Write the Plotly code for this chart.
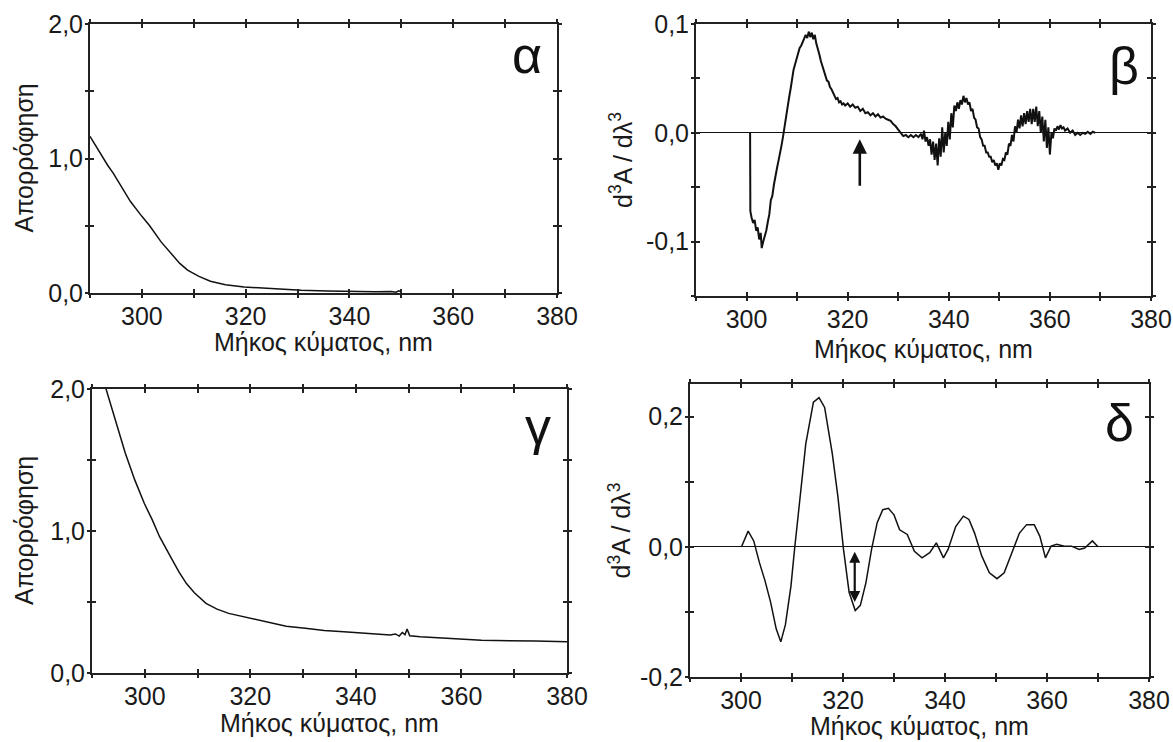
import plotly.graph_objects as go

# ---------------- data ----------------
# Panel α : absorbance spectrum
lam_a = [290, 291, 292, 293.4, 294.5, 296.4, 297.8, 300, 301.5, 303.7, 305.1, 307.3,
         308.8, 311, 313.2, 316.1, 319.7, 323.4, 327, 330.7, 335.8, 341.6, 345, 348,
         349, 349.5, 350]
abs_a = [1.165, 1.10, 1.04, 0.95, 0.89, 0.77, 0.68, 0.57, 0.50, 0.38, 0.32, 0.22,
         0.17, 0.124, 0.087, 0.062, 0.045, 0.035, 0.025, 0.020, 0.015, 0.010, 0.010, 0.012,
         0.006, 0.016, 0.008]

# Panel β : third derivative of α
lam_b = [300.7, 300.75, 301.0, 301.3, 301.6, 301.9, 302.2, 302.5, 302.8, 303.0, 303.3, 303.6,
         303.9, 304.2, 304.5, 304.8, 305.1, 305.4, 305.7, 306.0, 306.3, 306.6, 306.9, 307.2,
         307.5, 307.8, 308.1, 308.4, 308.7, 309.0, 309.3, 309.6, 309.9, 310.2, 310.5, 310.8,
         311.1, 311.4, 311.7, 312.0, 312.3, 312.6, 312.9, 313.2, 313.5, 313.8, 314.1, 314.4,
         314.7, 315.0, 315.3, 315.6, 315.9, 316.2, 316.5, 316.8, 317.1, 317.4, 317.7, 318.0,
         318.3, 318.6, 318.9, 319.2, 319.5, 320.0, 320.5, 321.0, 321.5, 322.0, 322.5, 323.0,
         323.5, 324.0, 324.5, 325.0, 325.5, 326.0, 326.5, 327.0, 327.5, 328.0, 328.5, 329.0,
         329.5, 330.0, 330.5, 331.0, 331.5, 332.0, 332.5, 333.0, 333.5, 334.0, 334.5, 334.8,
         335.1, 335.4, 335.7, 336.0, 336.3, 336.6, 336.9, 337.2, 337.5, 337.8, 338.1, 338.4,
         338.7, 339.0, 339.3, 339.6, 339.9, 340.2, 340.5, 340.8, 341.1, 341.4, 341.7, 342.0,
         342.3, 342.6, 342.9, 343.2, 343.5, 343.8, 344.1, 344.4, 344.7, 345.0, 345.3, 345.6,
         345.9, 346.2, 346.5, 346.8, 347.1, 347.4, 347.7, 348.0, 348.3, 348.6, 348.9, 349.2,
         349.5, 349.8, 350.1, 350.4, 350.7, 351.0, 351.3, 351.6, 351.9, 352.2, 352.5, 352.8,
         353.1, 353.4, 353.7, 354.0, 354.3, 354.6, 354.9, 355.2, 355.5, 355.8, 356.1, 356.4,
         356.7, 357.0, 357.3, 357.6, 357.9, 358.2, 358.5, 358.8, 359.1, 359.4, 359.7, 360.0,
         360.3, 360.6, 360.9, 361.2, 361.5, 361.8, 362.1, 362.4, 362.7, 363.0, 363.5, 364.0,
         364.5, 365.0, 365.5, 366.0, 366.5, 367.0, 367.5, 368.0, 368.5, 369.0]
d3_b = [0.0, -0.072, -0.078, -0.083, -0.080, -0.090, -0.087, -0.098, -0.092, -0.106, -0.100, -0.095,
        -0.090, -0.082, -0.075, -0.062, -0.058, -0.048, -0.042, -0.033, -0.026, -0.020, -0.012, -0.004,
        0.006, 0.015, 0.024, 0.032, 0.040, 0.050, 0.058, 0.063, 0.068, 0.072, 0.078, 0.080,
        0.084, 0.086, 0.090, 0.087, 0.093, 0.088, 0.092, 0.086, 0.090, 0.082, 0.078, 0.072,
        0.066, 0.062, 0.056, 0.054, 0.048, 0.047, 0.042, 0.040, 0.037, 0.035, 0.031, 0.032,
        0.028, 0.029, 0.026, 0.027, 0.025, 0.027, 0.024, 0.026, 0.023, 0.024, 0.020, 0.022,
        0.018, 0.019, 0.016, 0.018, 0.015, 0.017, 0.014, 0.015, 0.013, 0.012, 0.011, 0.008,
        0.006, 0.003, 0.000, -0.003, -0.002, -0.004, -0.002, -0.004, -0.002, -0.004, -0.001, -0.006,
        0.002, -0.008, -0.004, -0.012, -0.006, -0.020, -0.008, -0.025, -0.010, -0.030, -0.005, -0.022,
        0.005, -0.018, 0.000, -0.012, 0.010, -0.006, 0.018, 0.005, 0.025, 0.020, 0.028, 0.022,
        0.030, 0.026, 0.034, 0.028, 0.032, 0.026, 0.028, 0.020, 0.022, 0.014, 0.012, 0.005,
        0.004, -0.004, -0.006, -0.012, -0.012, -0.018, -0.018, -0.022, -0.022, -0.027, -0.025, -0.030,
        -0.028, -0.034, -0.028, -0.030, -0.024, -0.025, -0.018, -0.020, -0.010, -0.012, -0.002, -0.008,
        0.006, 0.000, 0.012, 0.004, 0.016, 0.006, 0.018, 0.008, 0.020, 0.010, 0.022, 0.008,
        0.022, 0.010, 0.024, 0.006, 0.020, 0.000, 0.015, -0.008, 0.012, -0.014, 0.005, -0.020,
        0.000, -0.005, 0.004, 0.002, 0.006, 0.003, 0.007, 0.004, 0.005, 0.002, 0.004, 0.000,
        0.002, -0.002, 0.000, -0.002, 0.000, -0.001, 0.001, -0.001, 0.001, 0.000]

# Panel γ : absorbance spectrum
lam_g = [292.5, 294.1, 296.3, 298.1, 299.9, 301.4, 302.8, 305, 306.5, 307.9, 309.4, 311.6,
         313.7, 315.9, 319.5, 323.2, 326.8, 330.4, 334, 337.7, 341.3, 344.9, 346.5, 347.5,
         348.2, 348.8, 349.3, 349.7, 350.2, 352.2, 359.4, 363.8, 374, 380]
abs_g = [2.02, 1.82, 1.55, 1.36, 1.195, 1.08, 0.96, 0.81, 0.71, 0.63, 0.565, 0.49,
         0.45, 0.42, 0.39, 0.355, 0.33, 0.315, 0.30, 0.29, 0.28, 0.27, 0.268, 0.275,
         0.26, 0.285, 0.27, 0.31, 0.262, 0.255, 0.24, 0.23, 0.225, 0.22]

# Panel δ : third derivative of γ
lam_d = [300.1, 301.4, 302.5, 303.6, 304.7, 305.8, 306.9, 307.8, 308.7, 309.8, 310.5, 311.6,
         312.7, 314.2, 315.3, 316.4, 317.9, 319.0, 320.1, 321.2, 322.4, 323.4, 324.5, 325.6,
         326.7, 327.8, 328.9, 330.0, 331.1, 332.6, 334.0, 335.5, 337.0, 338.3, 339.7, 340.6,
         342.1, 343.6, 344.7, 345.8, 347.2, 348.7, 350.2, 351.6, 353.1, 354.6, 356.0, 357.5,
         358.6, 359.7, 360.8, 361.9, 363.4, 364.8, 366.3, 367.4, 368.9, 370.0]
d3_d = [0.0, 0.024, 0.009, -0.024, -0.052, -0.085, -0.126, -0.146, -0.120, -0.060, -0.004, 0.072,
        0.158, 0.222, 0.229, 0.214, 0.143, 0.077, -0.004, -0.070, -0.098, -0.090, -0.055, -0.004,
        0.037, 0.057, 0.059, 0.049, 0.026, 0.019, -0.007, -0.017, -0.009, 0.006, -0.017, -0.004,
        0.031, 0.047, 0.042, 0.021, -0.014, -0.040, -0.049, -0.040, -0.009, 0.021, 0.034, 0.034,
        0.016, -0.017, 0.001, 0.004, 0.001, 0.001, -0.004, -0.002, 0.009, 0.0]

# tick labels (labelled major ticks; unlabelled minor ticks in between)
x_tickvals = [300, 320, 340, 360, 380]
x_ticktext = ["300", "320", "340", "360", "380"]
x_minor_step = 10
abs_tickvals = [0, 1.0, 2.0]
abs_ticktext = ["0,0", "1,0", "2,0"]
abs_minor_step = 0.5
b_tickvals = [-0.1, 0, 0.1]
b_ticktext = ["-0,1", "0,0", "0,1"]
b_minor_step = 0.05
d_tickvals = [-0.2, 0, 0.2]
d_ticktext = ["-0,2", "0,0", "0,2"]
d_minor_step = 0.1

panel_letters = ["α", "β", "γ", "δ"]
x_title = "Μήκος κύματος, nm"
abs_title = "Απορρόφηση"
d3_title = "d<sup>3</sup>A / dλ<sup>3</sup>"

# ---------------- layout ----------------
W, H = 1173, 742
FONT = "Liberation Sans, Arial, Helvetica, sans-serif"
INK = "#1a1a1a"
AX = "#222222"
TICK_SIZE = 25
TITLE_SIZE = 25


def dx(l, r):
    return [l / W, r / W]


def dy(t, b):
    return [1 - b / H, 1 - t / H]


panels = [
    dict(box=(90, 557, 24, 293), x=lam_a, y=abs_a, yr=[0, 2.0], tv=abs_tickvals, tt=abs_ticktext,
         ms=abs_minor_step, zero=False, lw=1.5, ytitle=abs_title, ytx=24, xtitle_y=342,
         letter=(527, 55)),
    dict(box=(696, 1151, 24, 296), x=lam_b, y=d3_b, yr=[-0.15, 0.1], tv=b_tickvals, tt=b_ticktext,
         ms=b_minor_step, zero=True, lw=2.0, ytitle=d3_title, ytx=621, xtitle_y=349,
         letter=(1124, 66)),
    dict(box=(92, 567, 389, 673), x=lam_g, y=abs_g, yr=[0, 2.0], tv=abs_tickvals, tt=abs_ticktext,
         ms=abs_minor_step, zero=False, lw=1.5, ytitle=abs_title, ytx=24, xtitle_y=723,
         letter=(538, 426)),
    dict(box=(690, 1149, 384, 677), x=lam_d, y=d3_d, yr=[-0.2, 0.25], tv=d_tickvals, tt=d_ticktext,
         ms=d_minor_step, zero=True, lw=1.5, ytitle=d3_title, ytx=619, xtitle_y=726,
         letter=(1119, 423)),
]

fig = go.Figure()
annotations = []
layout = dict(
    width=W, height=H,
    margin=dict(l=0, r=0, t=0, b=0),
    paper_bgcolor="white", plot_bgcolor="white",
    showlegend=False,
    font=dict(family=FONT, color=INK),
)


def minor(step, start, side):
    return dict(tick0=start, dtick=step, ticks=side, ticklen=4, tickwidth=1.5,
                tickcolor=AX, showgrid=False)


for i, p in enumerate(panels, start=1):
    l, r, t, b = p["box"]
    o = i + 4
    fig.add_trace(go.Scatter(x=p["x"], y=p["y"], mode="lines",
                             line=dict(color="#111111", width=p["lw"]),
                             xaxis=f"x{i}", yaxis=f"y{i}", hoverinfo="skip"))
    # empty trace for the overlay axes carrying the outer half of the ticks
    fig.add_trace(go.Scatter(x=[], y=[], mode="lines", xaxis=f"x{o}", yaxis=f"y{o}",
                             hoverinfo="skip"))
    common = dict(showgrid=False, fixedrange=True, automargin=False)
    layout[f"xaxis{i}"] = dict(
        domain=dx(l, r), range=[290, 380], anchor=f"y{i}",
        showline=True, linecolor=AX, linewidth=2, mirror="allticks",
        ticks="inside", ticklen=4, tickwidth=1.5, tickcolor=AX,
        tickmode="array", tickvals=x_tickvals, ticktext=x_ticktext,
        minor=minor(x_minor_step, x_tickvals[0], "inside"),
        ticklabeloverflow="allow",
        tickfont=dict(size=TICK_SIZE, family=FONT, color=INK), zeroline=False, **common)
    layout[f"yaxis{i}"] = dict(
        domain=dy(t, b), range=p["yr"], anchor=f"x{i}",
        showline=True, linecolor=AX, linewidth=2, mirror="allticks",
        ticks="inside", ticklen=4, tickwidth=1.5, tickcolor=AX,
        tickmode="array", tickvals=p["tv"], ticktext=p["tt"],
        minor=minor(p["ms"], p["tv"][0], "inside"),
        ticklabeloverflow="allow",
        tickfont=dict(size=TICK_SIZE, family=FONT, color=INK),
        zeroline=p["zero"], zerolinecolor="#111111", zerolinewidth=1.2, **common)
    layout[f"xaxis{o}"] = dict(
        overlaying=f"x{i}", range=[290, 380], anchor=f"y{o}", showline=False,
        mirror="allticks", ticks="outside", ticklen=4, tickwidth=1.5, tickcolor=AX,
        tickmode="array", tickvals=x_tickvals, showticklabels=False,
        minor=minor(x_minor_step, x_tickvals[0], "outside"), zeroline=False, **common)
    layout[f"yaxis{o}"] = dict(
        overlaying=f"y{i}", range=p["yr"], anchor=f"x{o}", showline=False,
        mirror="allticks", ticks="outside", ticklen=4, tickwidth=1.5, tickcolor=AX,
        tickmode="array", tickvals=p["tv"], showticklabels=False,
        minor=minor(p["ms"], p["tv"][0], "outside"), zeroline=False, **common)

    # axis titles
    annotations.append(dict(text=x_title, xref="paper", yref="paper",
                            x=(l + r) / 2 / W, y=1 - p["xtitle_y"] / H,
                            xanchor="center", yanchor="middle", showarrow=False,
                            font=dict(size=TITLE_SIZE, family=FONT, color=INK)))
    annotations.append(dict(text=p["ytitle"], xref="paper", yref="paper",
                            x=p["ytx"] / W, y=1 - (t + b) / 2 / H, textangle=-90,
                            xanchor="center", yanchor="middle", showarrow=False,
                            font=dict(size=TITLE_SIZE, family=FONT, color=INK)))
    # panel letter
    lx, ly = p["letter"]
    annotations.append(dict(text=panel_letters[i - 1], xref="paper", yref="paper",
                            x=lx / W, y=1 - ly / H, xanchor="center", yanchor="middle",
                            showarrow=False, font=dict(size=52, family=FONT, color="#111111")))

# arrows marking 322 nm
annotations.append(dict(x=322.4, y=-0.006, ax=322.4, ay=-0.05, xref="x2", yref="y2",
                        axref="x2", ayref="y2", showarrow=True, arrowhead=2, arrowsize=1.1,
                        arrowwidth=2.6, arrowcolor="#111111", text=""))
annotations.append(dict(x=322.3, y=-0.0075, ax=322.3, ay=-0.087, xref="x4", yref="y4",
                        axref="x4", ayref="y4", showarrow=True, arrowhead=2, startarrowhead=2,
                        arrowside="end+start", arrowsize=1.0, startarrowsize=1.0,
                        arrowwidth=2.2, arrowcolor="#111111", text=""))

layout["annotations"] = annotations
fig.update_layout(**layout)
# remove the browser's default 8px body margin so the figure fills the window exactly
fig.write_html("out.html", config={"displayModeBar": False},
               post_script="document.body.style.margin='0px';")
